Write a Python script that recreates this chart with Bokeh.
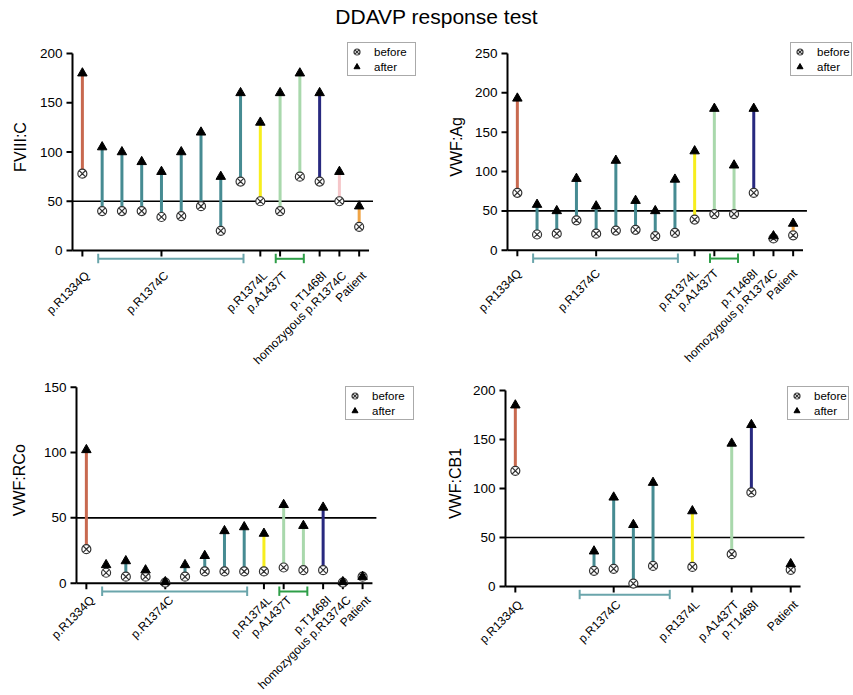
import math
from bokeh.plotting import figure
from bokeh.models import Range1d, Legend, LegendItem, Div
from bokeh.core.properties import value
from bokeh.layouts import column, row
from bokeh.embed import file_html
from bokeh.resources import INLINE

FONT = "Liberation Sans"

# ---------------- data ----------------
GROUP_COLORS = {
    "p.R1334Q": "#c8694f",
    "p.R1374C": "#468b92",
    "p.R1374L": "#f7ee1e",
    "p.A1437T": "#a9d8ac",
    "p.T1468I": "#28297f",
    "homozygous p.R1374C": "#f5c6c9",
    "Patient": "#f0a445",
}

groups_full = (["p.R1334Q"] + ["p.R1374C"] * 8 +
               ["p.R1374L", "p.A1437T", "p.A1437T", "p.T1468I", "homozygous p.R1374C", "Patient"])
slots_full = list(range(1, 16))
tick_slots_full = [1, 5, 10, 11, 13, 14, 15]
tick_labels_full = ["p.R1334Q", "p.R1374C", "p.R1374L", "p.A1437T", "p.T1468I",
                    "homozygous p.R1374C", "Patient"]

fviii_before = [78, 40, 40, 40, 34, 35, 45, 20, 70, 50, 40, 75, 70, 50, 24]
fviii_after = [180, 105, 100, 90, 80, 100, 120, 75, 160, 130, 160, 180, 160, 80, 45]

vwfag_before = [73, 20, 21, 38, 21, 25, 26, 18, 22, 39, 46, 46, 73, 15, 19]
vwfag_after = [193, 58, 50, 91, 56, 114, 63, 50, 90, 126, 180, 108, 180, 18, 34]

vwfrco_before = [26, 8, 5, 5, 0.5, 5, 9, 9, 9, 9, 12, 10, 10, 0.5, 5]
vwfrco_after = [102, 14, 17, 10, 1, 14, 21, 40, 43, 38, 60, 44, 58, 1, 5]

cb1_slots = [1, 5, 6, 7, 8, 10, 12, 13, 15]
cb1_groups = ["p.R1334Q", "p.R1374C", "p.R1374C", "p.R1374C", "p.R1374C",
              "p.R1374L", "p.A1437T", "p.T1468I", "Patient"]
cb1_before = [118, 16, 18, 3, 21, 20, 33, 96, 17]
cb1_after = [185, 36, 91, 63, 106, 77, 146, 165, 23]
cb1_tick_slots = [1, 6, 10, 12, 13, 15]
cb1_tick_labels = ["p.R1334Q", "p.R1374C", "p.R1374L", "p.A1437T", "p.T1468I", "Patient"]

# ---------------- layout helpers ----------------
TEAL_BR = "#6aa5ab"
GREEN_BR = "#2e9e48"


def make_panel(ylabel, slots, groups, before, after, ymax, ystep, tick_slots, tick_labels,
               brackets, origin, width, height, left, zero_y, slot_px, unit_px,
               legend_topleft, legend_label_w, label_dxy, ylabel_dx):
    ox, oy = origin
    x_start = 0.5 - left / slot_px
    x_end = 0.5 + (width - left) / slot_px
    y_top = (zero_y - oy) / unit_px
    y_bot = -(oy + height - zero_y) / unit_px
    px_x = 1.0 / slot_px
    px_y = 1.0 / unit_px

    p = figure(width=width, height=height, x_range=Range1d(x_start, x_end),
               y_range=Range1d(y_bot, y_top), toolbar_location=None, output_backend="svg",
               min_border_left=0, min_border_right=0, min_border_top=0,
               min_border_bottom=0, outline_line_color=None)
    p.xgrid.visible = False
    p.ygrid.visible = False
    p.xaxis.visible = False
    p.yaxis.visible = False

    # ---- y axis (drawn on the data scales) ----
    yticks = list(range(0, ymax + 1, ystep))
    p.segment(x0=[0.5], y0=[0], x1=[0.5], y1=[ymax], line_color="black", line_width=2)
    p.segment(x0=[0.5] * len(yticks), y0=yticks, x1=[0.5 - 6 * px_x] * len(yticks),
              y1=yticks, line_color="black", line_width=2)
    p.text(x=[0.5 - 10 * px_x] * len(yticks), y=yticks, text=[str(t) for t in yticks],
           text_align="right", text_baseline="middle", text_font=value(FONT),
           text_font_size="13.5px", text_color="black")
    p.text(x=[0.5 - ylabel_dx * px_x], y=[ymax / 2 + 5 * px_y], text=[ylabel],
           angle=math.pi / 2, text_align="center", text_baseline="middle",
           text_font=value(FONT), text_font_size="16px", text_color="black")

    # ---- x axis baseline, ticks, labels ----
    p.segment(x0=[0.5], y0=[0], x1=[15.5], y1=[0], line_color="black", line_width=2)
    p.segment(x0=tick_slots, y0=[0] * len(tick_slots), x1=tick_slots,
              y1=[-6 * px_y] * len(tick_slots), line_color="black", line_width=2)
    dx, dy = label_dxy
    p.text(x=[s + dx * px_x for s in tick_slots], y=[-dy * px_y] * len(tick_slots),
           text=tick_labels, angle=math.pi / 4, text_align="right", text_baseline="top",
           text_font=value(FONT), text_font_size="12px", text_color="black")

    # reference line at 50
    p.segment(x0=[0.5], y0=[50], x1=[15.7], y1=[50], line_color="black", line_width=1.6)

    # brackets
    for x0, x1, col in brackets:
        yb = -8.3 * px_y
        p.segment(x0=[x0], y0=[yb], x1=[x1], y1=[yb], line_color=col, line_width=2)
        p.segment(x0=[x0, x1], y0=[-3.3 * px_y] * 2, x1=[x0, x1],
                  y1=[-12.7 * px_y] * 2, line_color=col, line_width=2)

    colors = [GROUP_COLORS[g] for g in groups]
    p.segment(x0=slots, y0=before, x1=slots, y1=after, line_color=colors, line_width=3)
    r_b = p.scatter(slots, before, marker="circle_x", size=9, fill_color="white",
                    line_color="#333333", line_width=1.2)
    r_a = p.scatter(slots, after, marker="triangle", size=9.5, fill_color="black",
                    line_color="black")

    lx, lt = legend_topleft
    box_h = 32
    legend = Legend(items=[LegendItem(label="before", renderers=[r_b]),
                           LegendItem(label="after", renderers=[r_a])],
                    location=(lx - ox, (oy + height) - (lt + box_h)), margin=0,
                    padding=1, spacing=0, glyph_width=15, glyph_height=15, label_height=15,
                    label_width=legend_label_w, label_standoff=10, label_text_font=FONT,
                    label_text_font_size="11.5px", label_text_color="black",
                    border_line_color="#555555", border_line_width=1.5,
                    background_fill_color="white", background_fill_alpha=1)
    p.add_layout(legend)
    return p


br_full = [(1.8, 9.15, TEAL_BR), (10.78, 12.2, GREEN_BR)]
br_cb1 = [(4.27, 8.85, TEAL_BR)]

p1 = make_panel("FVIII:C", slots_full, groups_full, fviii_before, fviii_after, 200, 50,
                tick_slots_full, tick_labels_full, br_full, origin=(0, 38),
                width=430, height=342, left=72, zero_y=250, slot_px=19.77,
                unit_px=0.985, legend_topleft=(347, 44), legend_label_w=40,
                label_dxy=(0, 18), ylabel_dx=52)
p2 = make_panel("VWF:Ag", slots_full, groups_full, vwfag_before, vwfag_after, 250, 50,
                tick_slots_full, tick_labels_full, br_full, origin=(430, 38),
                width=423, height=342, left=77, zero_y=249.75, slot_px=19.7,
                unit_px=0.787, legend_topleft=(790, 44), legend_label_w=33,
                label_dxy=(-3, 16), ylabel_dx=51)
p3 = make_panel("VWF:RCo", slots_full, groups_full, vwfrco_before, vwfrco_after, 150, 50,
                tick_slots_full, tick_labels_full, br_full, origin=(0, 380),
                width=430, height=315, left=76, zero_y=582.7, slot_px=19.73,
                unit_px=1.307, legend_topleft=(345, 388), legend_label_w=40,
                label_dxy=(1, 10), ylabel_dx=57)
p4 = make_panel("VWF:CB1", cb1_slots, cb1_groups, cb1_before, cb1_after, 200, 50,
                cb1_tick_slots, cb1_tick_labels, br_cb1, origin=(430, 380),
                width=423, height=315, left=75, zero_y=586, slot_px=19.67,
                unit_px=0.98, legend_topleft=(787, 388), legend_label_w=33,
                label_dxy=(0, 11), ylabel_dx=50)

title = Div(text='<div style="font-family: \'Liberation Sans\'; font-size: 21px; '
                 'text-align: center; width: 853px; position: relative; top: 2px; '
                 'left: 10px; color: black;">DDAVP response test</div>',
            width=853, height=38, margin=(0, 0, 0, 0))

layout = column(title, row(p1, p2, spacing=0), row(p3, p4, spacing=0), spacing=0)

with open("out.html", "w") as f:
    f.write(file_html(layout, INLINE))
